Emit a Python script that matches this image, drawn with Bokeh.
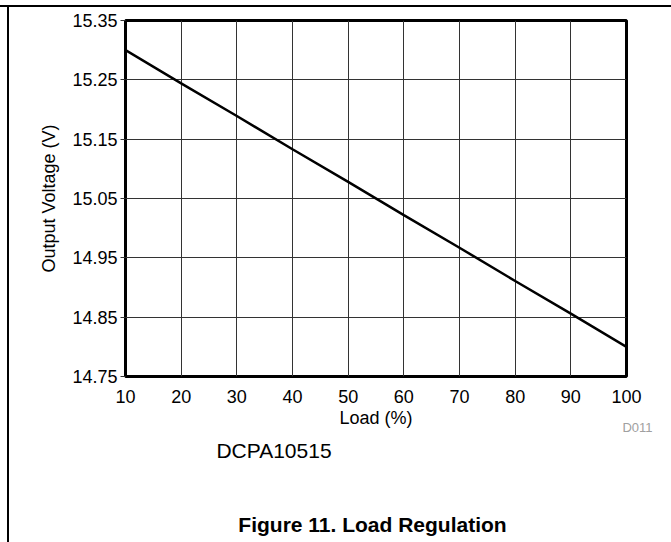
from bokeh.plotting import figure
from bokeh.models import Range1d, FixedTicker, Label
from bokeh.embed import file_html
from bokeh.resources import INLINE

load_pct = [10, 20, 30, 40, 50, 60, 70, 80, 90, 100]
output_v = [15.300, 15.244, 15.189, 15.133, 15.078, 15.022, 14.967, 14.911, 14.856, 14.800]
x_ticks = [10, 20, 30, 40, 50, 60, 70, 80, 90, 100]
y_ticks = [14.75, 14.85, 14.95, 15.05, 15.15, 15.25, 15.35]
y_tick_labels = ["14.75", "14.85", "14.95", "15.05", "15.15", "15.25", "15.35"]

FONT = "Liberation Sans"
W, H = 671, 542
FL, FT, FR, FB = 125, 20, 626, 376   # frame edges in page pixels
X0, X1, Y0, Y1 = 10, 100, 14.75, 15.35

p = figure(width=W, height=H, output_backend="svg", toolbar_location=None,
           x_range=Range1d(X0, X1), y_range=Range1d(Y0, Y1),
           min_border_left=FL, min_border_top=FT, min_border_right=W - FR,
           min_border_bottom=H - FB)
p.background_fill_color = "white"
p.border_fill_color = None
p.outline_line_color = "black"
p.outline_line_width = 3
# the thin page rules at the top and left of the reference
p.styles = {
    "background": "linear-gradient(#000, #000) 0px 5px / 100% 2px no-repeat, "
                  "linear-gradient(#000, #000) 7px 5px / 2px 100% no-repeat, #fff",
}

p.xaxis.ticker = FixedTicker(ticks=x_ticks)
p.yaxis.ticker = FixedTicker(ticks=y_ticks)
p.yaxis.major_label_overrides = {t: s for t, s in zip(y_ticks, y_tick_labels)}
for ax in (p.xaxis[0], p.yaxis[0]):
    ax.axis_line_color = None
    ax.minor_tick_line_color = None
    ax.major_tick_in = 0
    ax.major_label_text_font = FONT
    ax.major_label_text_font_size = "18px"
    ax.major_label_text_color = "black"
    ax.axis_label_text_font = FONT
    ax.axis_label_text_font_size = "18px"
    ax.axis_label_text_font_style = "normal"
    ax.axis_label_text_color = "black"
    ax.major_tick_line_color = "#333333"

p.xaxis.major_tick_out = 0
p.xaxis.major_label_standoff = 13
p.xaxis.axis_label = "Load (%)"
p.xaxis.axis_label_standoff = 2
p.yaxis.major_tick_out = 5
p.yaxis.major_label_standoff = 3
p.yaxis.axis_label = "Output Voltage (V)"
p.yaxis.axis_label_standoff = 10

p.xgrid.ticker = FixedTicker(ticks=x_ticks)
p.ygrid.ticker = FixedTicker(ticks=y_ticks)
for g in (p.xgrid[0], p.ygrid[0]):
    g.grid_line_color = "#333333"
    g.grid_line_width = 1

p.line(load_pct, output_v, line_color="black", line_width=2.5)


def dx(px):
    return X0 + (px - FL) * (X1 - X0) / (FR - FL)


def dy(py):
    return Y1 - (py - FT) * (Y1 - Y0) / (FB - FT)


# texts below the plot (in a side panel so they are not clipped to the frame)
for txt, cx, cy, size, style, color in [
    ("D011", 637, 427, "13px", "normal", "#a0a0a0"),
    ("DCPA10515", 273.5, 449.5, "21px", "normal", "black"),
    ("Figure 11. Load Regulation", 372, 524, "21px", "bold", "black"),
]:
    p.add_layout(Label(x=dx(cx), y=dy(cy), text=txt, text_font=FONT,
                       text_font_size=size, text_font_style=style, text_color=color,
                       text_align="center", text_baseline="middle"), "below")

open("out.html", "w").write(file_html(p, INLINE))
